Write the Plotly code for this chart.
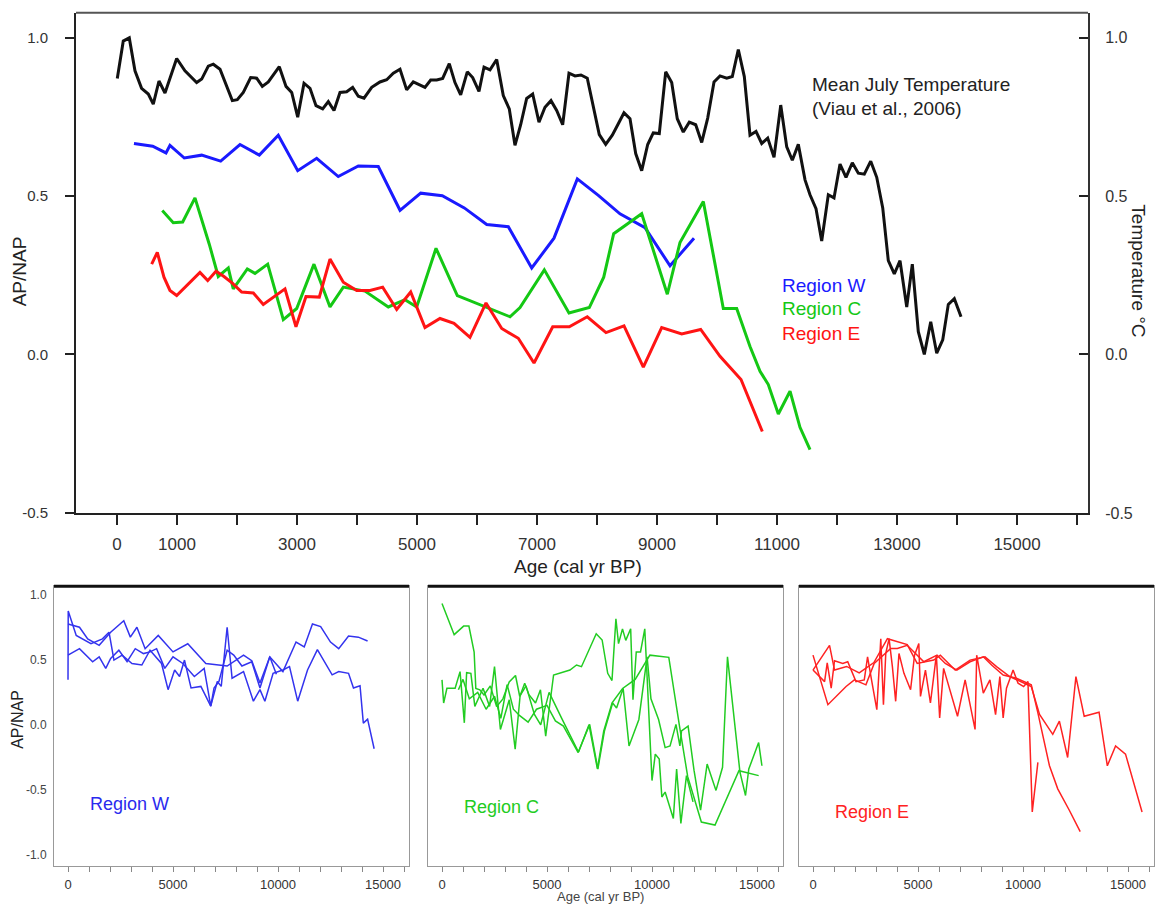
import plotly.graph_objects as go

# ---------------- data: main panel ----------------
temp_age = [5,105,205,300,410,522,605,700,800,995,
            1133,1328,1412,1522,1605,1717,1922,2005,2105,2228,
            2328,2422,2522,2705,2817,2912,3012,3117,3217,3317,
            3428,3522,3617,3717,3828,3928,4022,4117,4245,4383,
            4495,4605,4717,4828,4938,5038,5133,5228,5328,5428,
            5538,5633,5728,5838,5928,6033,6117,6217,6328,6438,
            6538,6633,6728,6828,6928,7033,7133,7233,7328,7428,
            7533,7633,7733,7838,7938,8038,8145,8255,8355,8450,
            8550,8645,8745,8845,8938,9038,9145,9245,9338,9438,
            9538,9645,9745,9845,9950,10050,10162,10255,10355,10455,
            10550,10650,10745,10845,10950,11062,11162,11255,11355,11467,
            11550,11650,11745,11855,11950,12050,12150,12255,12355,12455,
            12562,12662,12762,12855,12955,13050,13162,13255,13355,13455,
            13562,13662,13762,13855,13955,14067]
temp_val = [0.871,0.989,0.999,0.895,0.84,0.822,0.79,0.863,0.825,0.934,
            0.895,0.858,0.869,0.91,0.916,0.9,0.801,0.804,0.827,0.874,
            0.872,0.846,0.86,0.908,0.846,0.827,0.749,0.856,0.84,0.785,
            0.775,0.798,0.77,0.827,0.829,0.843,0.815,0.809,0.843,0.86,
            0.867,0.8875,0.9,0.835,0.86,0.85,0.843,0.866,0.866,0.871,
            0.918,0.858,0.819,0.892,0.874,0.83,0.907,0.898,0.931,0.817,
            0.775,0.66,0.725,0.808,0.822,0.733,0.78,0.801,0.77,0.725,
            0.8875,0.879,0.882,0.872,0.783,0.694,0.663,0.692,0.728,0.7625,
            0.744,0.634,0.58,0.6625,0.699,0.697,0.892,0.858,0.744,0.702,
            0.733,0.725,0.669,0.746,0.86,0.879,0.872,0.877,0.9625,0.877,
            0.692,0.704,0.666,0.683,0.622,0.787,0.655,0.613,0.663,0.551,
            0.504,0.46,0.358,0.504,0.494,0.601,0.559,0.605,0.572,0.569,
            0.61,0.559,0.4625,0.296,0.254,0.296,0.15,0.285,0.072,0.0,
            0.103,0.004,0.046,0.158,0.176,0.119]

w_age = [283,595,817,883,1122,1412,1728,2050,2372,2688,3012,3328,3688,4022,4355,
         4717,5062,5422,5788,6162,6522,6912,7283,7672,8022,8383,8800,9217,9617]
w_val = [0.666,0.657,0.636,0.66,0.62,0.629,0.61,0.6625,0.629,0.692,0.58,0.619,0.5615,0.595,0.593,
         0.455,0.509,0.501,0.4625,0.41,0.403,0.273,0.367,0.554,0.502,0.444,0.4,0.28,0.367]

c_age = [755,938,1095,1300,1538,1688,1855,1938,2172,2300,2512,2772,2995,3283,3550,
         3772,4133,4522,4800,4995,5317,5672,6550,6717,7122,7533,7872,8112,8278,8745,
         9172,9383,9772,10105,10328,10550,10717,10855,11022,11217,11383,11550]
c_val = [0.454,0.416,0.418,0.494,0.348,0.246,0.273,0.207,0.27,0.256,0.285,0.11,0.145,0.285,0.15,
         0.2125,0.2,0.15,0.173,0.15,0.335,0.186,0.119,0.148,0.267,0.131,0.148,0.244,0.381,0.444,
         0.19,0.353,0.483,0.145,0.145,0.025,-0.053,-0.095,-0.188,-0.116,-0.23,-0.3]

e_age = [578,672,783,883,995,1383,1512,1650,1783,1922,2078,2272,2438,2800,2983,3150,3372,
         3550,3772,3995,4217,4428,4662,4895,5133,5383,5617,5883,6150,6412,6688,6950,
         7262,7538,7838,8150,8450,8772,9078,9412,9728,10050,10400,10755]
e_val = [0.285,0.322,0.244,0.202,0.186,0.259,0.233,0.2625,0.246,0.225,0.197,0.194,0.158,0.207,0.0875,0.183,0.181,
         0.301,0.228,0.202,0.202,0.2125,0.142,0.197,0.085,0.1135,0.098,0.054,0.1625,0.082,0.051,-0.027,
         0.0875,0.0875,0.119,0.069,0.09,-0.04,0.085,0.0645,0.079,-0.006,-0.079,-0.243]

# ---------------- data: small panels ----------------
w1_age = [0,547,938,1484,2031,2656,2969,3281,3672,4297,5000,5703,6563,7578,8359,8750,9141,9609,
          10234,10859,11250,11641,12031,12500,12891,13359,13828,14266]
w1_val = [0.777,0.752,0.663,0.613,0.714,0.803,0.676,0.752,0.587,0.689,0.562,0.625,0.473,0.453,0.537,
          0.494,0.322,0.524,0.41,0.638,0.6,0.777,0.757,0.638,0.587,0.684,0.676,0.646]
w2_age = [0,10,391,1094,1641,1953,2188,2578,3047,3516,3906,4453,4766,5078,5313,5547,5859,6328,6797,
          7109,7297,7578,7813,8359,8828,9141,9375,9766,10234,10547,10938,11406,11875,12344,12578,
          12891,13359,13594,13906,14063,14266,14578]
w2_val = [0.347,0.878,0.689,0.625,0.663,0.714,0.499,0.537,0.473,0.461,0.575,0.473,0.271,0.423,0.372,
          0.499,0.284,0.296,0.144,0.334,0.296,0.752,0.359,0.41,0.182,0.271,0.182,0.397,0.423,0.448,
          0.182,0.423,0.58,0.448,0.385,0.41,0.397,0.284,0.301,0.013,0.043,-0.185]
w3_age = [0,547,1172,1484,1797,2031,2422,2813,3203,3594,3906,4219,4609,5000,5469,6016,6484,6797,
          6953,7188,7578,7891,8281,8750,9141,9609,9922]
w3_val = [0.537,0.587,0.486,0.524,0.435,0.511,0.575,0.486,0.587,0.549,0.562,0.587,0.435,0.524,0.473,
          0.372,0.435,0.144,0.284,0.334,0.575,0.537,0.453,0.486,0.284,0.524,0.39]

c1_age = [0,580,1030,1280,1530,1610,1800,2000,2300,2600,2900,3200,3500,3700,4000,4400,4700,5100,
          5700,6500,7000,7400,7700,8100,8600,9200,9900,10800,11300,11700,12350,13000,14140,15080]
c1_val = [0.936,0.695,0.761,0.761,0.56,0.28,0.27,0.23,0.30,0.14,0.20,0.33,0.38,0.22,0.30,0.08,0.0,
          0.25,0.05,-0.21,0.0,-0.34,-0.05,0.17,0.28,0.35,0.537,0.52,0.0,-0.40,-0.75,-0.773,-0.354,-0.392]
c2_age = [0,78,234,625,859,1063,1172,1375,1563,1953,2266,2500,2781,3203,3484,3719,3938,4141,4453,
          4688,4938,5313,6094,6406,6641,7344,7625,7891,8094,8281,8406,8594,8750,8984,9094,9250,
          9453,9656,9766,9875,10000,10156,10344,10469,10625,11016,11172,11375,11641,11953]
c2_val = [0.346,0.168,0.282,0.282,0.41,0.015,0.402,0.397,0.142,0.282,0.142,0.448,-0.036,0.193,-0.188,
          0.224,0.321,0.232,0.168,0.27,-0.087,0.384,0.422,0.461,0.448,0.702,0.654,0.397,0.341,0.817,
          0.626,0.74,0.651,0.74,0.193,0.562,0.562,0.74,0.372,-0.036,-0.43,-0.226,-0.265,-0.557,-0.519,
          -0.723,-0.341,-0.761,-0.392,-0.595]
c3_age = [781,1000,1300,1700,2100,2500,2800,3100,3400,3700,4100,4500,5000,5400,5781,6484,7031,7422,
          7734,8125,8313,8625,8906,9375,9766,9950,10313,10625,10859,11141,11328,11406,11719,12000,
          12313,12625,13047,13359,13594,14188,14453,14609,15078,15234]
c3_val = [0.27,0.35,0.2,0.25,0.12,0.22,0.05,0.31,0.12,0.07,0.02,0.12,0.15,0.03,-0.01,-0.214,0.003,
          -0.341,-0.048,0.168,0.13,0.282,-0.163,0.041,0.524,0.2,0.041,-0.176,-0.163,0.003,-0.163,-0.048,
          -0.01,-0.35,-0.659,-0.303,-0.506,-0.328,0.524,-0.366,-0.545,-0.341,-0.137,-0.316]

e1_age = [0,787,1024,1600,2200,2900,3543,4488,4961,5748,6063,6772,7480,8189,8740,9370,10394,10787,
          11417,11732,12126,12520,12913,13622,14016,14409,14882,15669]
e1_val = [0.422,0.613,0.422,0.45,0.40,0.48,0.664,0.618,0.473,0.499,0.537,0.422,0.499,0.524,0.448,
          0.372,0.295,0.079,-0.074,0.028,-0.252,0.372,0.066,0.097,-0.316,-0.163,-0.226,-0.672]
e2_age = [0,709,1575,1969,2520,2913,3701,4016,4488,4882,5276,5906,6299,6850,7480,8110,8504,9055,
          9685,10394,10709,11260,11654,12205,12724]
e2_val = [0.537,0.155,0.295,0.346,0.308,0.473,0.588,0.588,0.613,0.55,0.486,0.537,0.473,0.422,0.486,
          0.524,0.461,0.384,0.359,0.308,0.092,-0.316,-0.494,-0.659,-0.824]
e3_age = [0,551,677,866,1024,1417,1654,2047,2441,2598,2787,3039,3228,3354,3465,3622,3780,3937,4094,
          4331,4646,4835,5039,5118,5354,5591,5874,6031,6220,6535,6882,7244,7717,7795,8110,8425,8693,
          8898,9055,9213,9528,9764,10031,10236,10441,10709]
e3_val = [0.422,0.333,0.478,0.282,0.494,0.473,0.486,0.333,0.346,0.524,0.346,0.117,0.664,0.155,0.55,
          0.664,0.448,0.181,0.55,0.397,0.27,0.537,0.626,0.219,0.422,0.168,0.537,0.053,0.435,0.257,
          0.066,0.346,-0.036,0.537,0.244,0.346,0.079,0.372,0.053,0.282,0.422,0.321,0.295,0.333,-0.672,-0.29]

main_xticks = list(range(0, 17000, 1000))
main_xlabels = ["0", "1000", "3000", "5000", "7000", "9000", "11000", "13000", "15000"]
main_yticks = [-0.5, 0.0, 0.5, 1.0]
main_ylabels = ["-0.5", "0.0", "0.5", "1.0"]
small_xlabels = ["0", "5000", "10000", "15000"]
small_yticks = [-1.0, -0.5, 0.0, 0.5, 1.0]
small_ylabels = ["-1.0", "-0.5", "0.0", "0.5", "1.0"]

# ---------------- layout helpers ----------------
W, H = 1156, 914
FONT = "Liberation Sans, Arial, sans-serif"
def PX(x): return x / W
def PY(y): return 1 - y / H

BLUE, GREEN, RED = "#1a1aff", "#14c814", "#ff1414"

fig = go.Figure()
# main chart
fig.add_trace(go.Scatter(x=temp_age, y=temp_val, mode="lines", line=dict(color="#111111", width=3), xaxis="x", yaxis="y2"))
fig.add_trace(go.Scatter(x=w_age, y=w_val, mode="lines", line=dict(color=BLUE, width=3), xaxis="x", yaxis="y"))
fig.add_trace(go.Scatter(x=c_age, y=c_val, mode="lines", line=dict(color=GREEN, width=3), xaxis="x", yaxis="y"))
fig.add_trace(go.Scatter(x=e_age, y=e_val, mode="lines", line=dict(color=RED, width=3), xaxis="x", yaxis="y"))

# small panels
for a, v in [(w1_age, w1_val), (w2_age, w2_val), (w3_age, w3_val)]:
    fig.add_trace(go.Scatter(x=a, y=v, mode="lines", line=dict(color="#3333ee", width=1.5), xaxis="x3", yaxis="y3"))
for a, v in [(c1_age, c1_val), (c2_age, c2_val), (c3_age, c3_val)]:
    fig.add_trace(go.Scatter(x=a, y=v, mode="lines", line=dict(color="#22cc22", width=1.5), xaxis="x4", yaxis="y4"))
for a, v in [(e1_age, e1_val), (e2_age, e2_val), (e3_age, e3_val)]:
    fig.add_trace(go.Scatter(x=a, y=v, mode="lines", line=dict(color="#ff2222", width=1.5), xaxis="x5", yaxis="y5"))

main_ticktext = [str(t) if str(t) in main_xlabels else "" for t in main_xticks]
small_ticktext = [str(t) if str(t) in small_xlabels else "" for t in main_xticks]

layout = dict(
    width=W, height=H, margin=dict(l=0, r=0, t=0, b=0),
    paper_bgcolor="white", plot_bgcolor="white", showlegend=False,
    font=dict(family=FONT, color="#222"),
    xaxis=dict(domain=[PX(76), PX(1088)], anchor="y", range=[-683, 16183],
               tickmode="array", tickvals=main_xticks, ticktext=main_ticktext,
               ticks="outside", ticklen=10, tickwidth=2, tickcolor="#222",
               showline=True, linecolor="#222", linewidth=2, showgrid=False, zeroline=False,
               tickfont=dict(size=17, color="#333"), ticklabelstandoff=5),
    yaxis=dict(domain=[PY(518), PY(13)], anchor="x", range=[-0.5, 1.078],
               tickmode="array", tickvals=main_yticks, ticktext=main_ylabels,
               ticks="outside", ticklen=9, tickwidth=2, tickcolor="#222",
               showline=True, linecolor="#222", linewidth=2, showgrid=False, zeroline=False,
               tickfont=dict(size=15, color="#333"), ticklabelstandoff=14),
    yaxis2=dict(overlaying="y", side="right", anchor="x", range=[-0.5, 1.078],
                tickmode="array", tickvals=main_yticks, ticktext=main_ylabels,
                ticks="inside", ticklen=9, tickwidth=2, tickcolor="#222",
                showline=True, linecolor="#333", linewidth=2, showgrid=False, zeroline=False,
                tickfont=dict(size=16, color="#333"), ticklabelstandoff=12),
)

panels = [("x3", "y3", 54, 409, True), ("x4", "y4", 428, 783, False), ("x5", "y5", 799, 1154, False)]
for xa, ya, l, r, show_y in panels:
    layout["xaxis" + xa[1:]] = dict(domain=[PX(l), PX(r)], anchor=ya, range=[-667, 16238],
        tickmode="array", tickvals=main_xticks, ticktext=small_ticktext,
        ticks="outside", ticklen=5, tickwidth=1, tickcolor="#888",
        showline=True, mirror=True, linecolor="#999", linewidth=1,
        showgrid=False, zeroline=False, tickfont=dict(size=13, color="#333"), ticklabelstandoff=1)
    layout["yaxis" + ya[1:]] = dict(domain=[PY(875), PY(592)], anchor=xa, range=[-1.092, 1.069],
        tickmode="array", tickvals=small_yticks, ticktext=small_ylabels, ticks="",
        showticklabels=show_y, showline=True, mirror=True, linecolor="#999", linewidth=1,
        showgrid=False, zeroline=False, tickfont=dict(size=12, color="#444"), ticklabelstandoff=4)

shapes = [dict(type="line", xref="paper", yref="paper", x0=PX(76), x1=PX(1088), y0=PY(13), y1=PY(13),
               line=dict(color="#555", width=2))]
for _, _, l, r, _ in panels:
    shapes.append(dict(type="line", xref="paper", yref="paper", x0=PX(l), x1=PX(r), y0=PY(592), y1=PY(592),
                       line=dict(color="#111", width=3)))
layout["shapes"] = shapes

def ann(text, x, y, size, color="#222", xanchor="left", angle=0):
    return dict(text=text, x=PX(x), y=PY(y), xref="paper", yref="paper", showarrow=False,
                xanchor=xanchor, yanchor="middle", textangle=angle,
                font=dict(family=FONT, size=size, color=color))

layout["annotations"] = [
    ann("Mean July Temperature", 810, 85, 19),
    ann("(Viau et al., 2006)", 810, 110, 19),
    ann("Region W", 780, 288, 19, BLUE),
    ann("Region C", 780, 312, 19, GREEN),
    ann("Region E", 780, 337, 19, RED),
    ann("AP/NAP", 19, 274, 19, xanchor="center", angle=-90),
    ann("Temperature °C", 1139, 273, 19, xanchor="center", angle=90),
    ann("Age (cal yr BP)", 578, 572, 19, xanchor="center"),
    ann("AP/NAP", 18, 727, 16, xanchor="center", angle=-90),
    ann("Region W", 88, 812, 18, "#2a2aee"),
    ann("Region C", 462, 815, 18, "#22cc22"),
    ann("Region E", 833, 820, 18, "#ff2222"),
    ann("Age (cal yr BP)", 600, 905, 13, "#444", xanchor="center"),
]

fig.update_layout(**layout)
fig.write_html(
    "out.html",
    config={"responsive": False, "displayModeBar": False},
    post_script=(
        "document.documentElement.style.margin='0';document.documentElement.style.padding='0';"
        "document.body.style.margin='0';document.body.style.padding='0';"
        "document.documentElement.style.overflow='hidden';document.body.style.overflow='hidden';"
    ),
)
